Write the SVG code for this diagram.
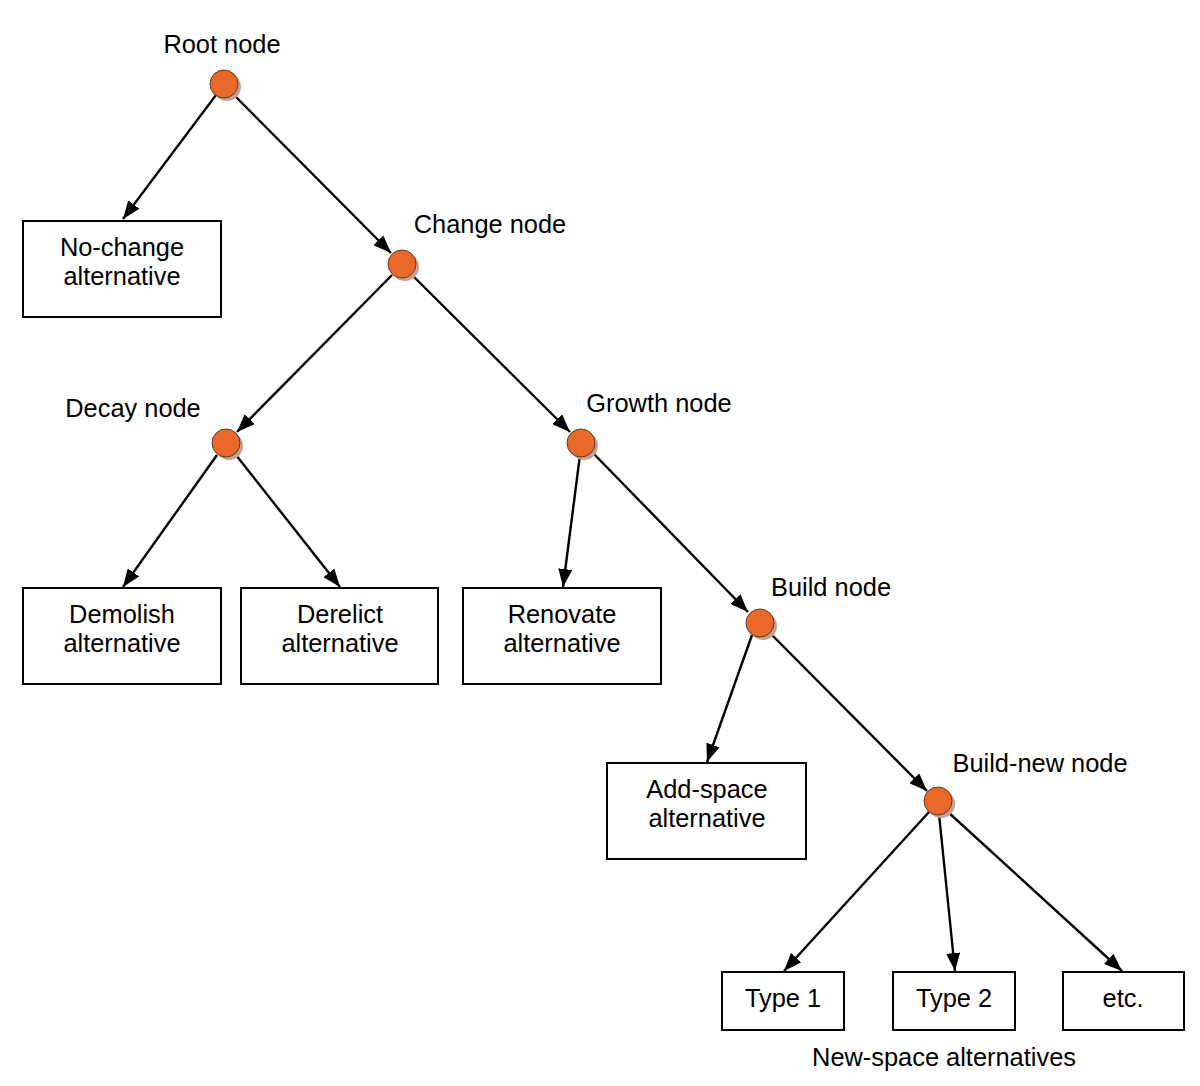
<svg xmlns="http://www.w3.org/2000/svg" width="1200" height="1086" viewBox="0 0 1200 1086">
<style>
text{font-family:"Liberation Sans",Arial,sans-serif;font-size:25.4px;fill:#000;text-anchor:middle}
.box{fill:#fff;stroke:#000;stroke-width:2}
.dot{fill:#E8692A;stroke:#5a3a2a;stroke-width:1}
.sh{fill:#C9A08C}
</style>
<defs>
<marker id="a" viewBox="0 0 18 14" refX="18" refY="7" markerWidth="18" markerHeight="14" markerUnits="userSpaceOnUse" orient="auto">
<path d="M0,0 L18,7 L0,14 z" fill="#000"/>
</marker>
</defs>
<rect width="1200" height="1086" fill="#fff"/>
<g id="connectors" stroke="#000" stroke-width="2.4" fill="none">
<line x1="216" y1="95" x2="123" y2="219" marker-end="url(#a)"/>
<line x1="234" y1="95" x2="391" y2="253" marker-end="url(#a)"/>
<line x1="392" y1="275" x2="237" y2="432" marker-end="url(#a)"/>
<line x1="412" y1="275" x2="570" y2="432" marker-end="url(#a)"/>
<line x1="217" y1="455" x2="123" y2="587" marker-end="url(#a)"/>
<line x1="236" y1="455" x2="340" y2="587" marker-end="url(#a)"/>
<line x1="580" y1="455" x2="563" y2="587" marker-end="url(#a)"/>
<line x1="592" y1="452" x2="748" y2="612" marker-end="url(#a)"/>
<line x1="752" y1="635" x2="707" y2="762" marker-end="url(#a)"/>
<line x1="770" y1="633" x2="927" y2="791" marker-end="url(#a)"/>
<line x1="929" y1="812" x2="784" y2="971" marker-end="url(#a)"/>
<line x1="939" y1="814" x2="955" y2="971" marker-end="url(#a)"/>
<line x1="948" y1="812" x2="1122" y2="971" marker-end="url(#a)"/>
</g>
<g id="root"><circle class="sh" cx="227" cy="87" r="14"/><circle class="dot" cx="224" cy="84" r="14"/><text x="222" y="53">Root node</text></g>
<g id="change"><circle class="sh" cx="405" cy="267" r="14"/><circle class="dot" cx="402" cy="264" r="14"/><text x="490" y="233">Change node</text></g>
<g id="decay"><circle class="sh" cx="229" cy="446" r="14"/><circle class="dot" cx="226" cy="443" r="14"/><text x="133" y="417">Decay node</text></g>
<g id="growth"><circle class="sh" cx="584" cy="446" r="14"/><circle class="dot" cx="581" cy="443" r="14"/><text x="659" y="412">Growth node</text></g>
<g id="build"><circle class="sh" cx="763" cy="626" r="14"/><circle class="dot" cx="760" cy="623" r="14"/><text x="831" y="596">Build node</text></g>
<g id="buildnew"><circle class="sh" cx="941" cy="804" r="14"/><circle class="dot" cx="938" cy="801" r="14"/><text x="1040" y="772">Build-new node</text></g>
<g id="nochange"><rect class="box" x="23" y="221" width="198" height="96"/><text x="122" y="256">No-change</text><text x="122" y="285">alternative</text></g>
<g id="demolish"><rect class="box" x="23" y="588" width="198" height="96"/><text x="122" y="623">Demolish</text><text x="122" y="652">alternative</text></g>
<g id="derelict"><rect class="box" x="241" y="588" width="197" height="96"/><text x="340" y="623">Derelict</text><text x="340" y="652">alternative</text></g>
<g id="renovate"><rect class="box" x="463" y="588" width="198" height="96"/><text x="562" y="623">Renovate</text><text x="562" y="652">alternative</text></g>
<g id="addspace"><rect class="box" x="607" y="763" width="199" height="96"/><text x="707" y="798">Add-space</text><text x="707" y="827">alternative</text></g>
<g id="type1"><rect class="box" x="722" y="972" width="122" height="58"/><text x="783" y="1007">Type 1</text></g>
<g id="type2"><rect class="box" x="893" y="972" width="122" height="58"/><text x="954" y="1007">Type 2</text></g>
<g id="etc"><rect class="box" x="1063" y="972" width="121" height="58"/><text x="1123" y="1007">etc.</text></g>
<text x="944" y="1066">New-space alternatives</text>
</svg>
